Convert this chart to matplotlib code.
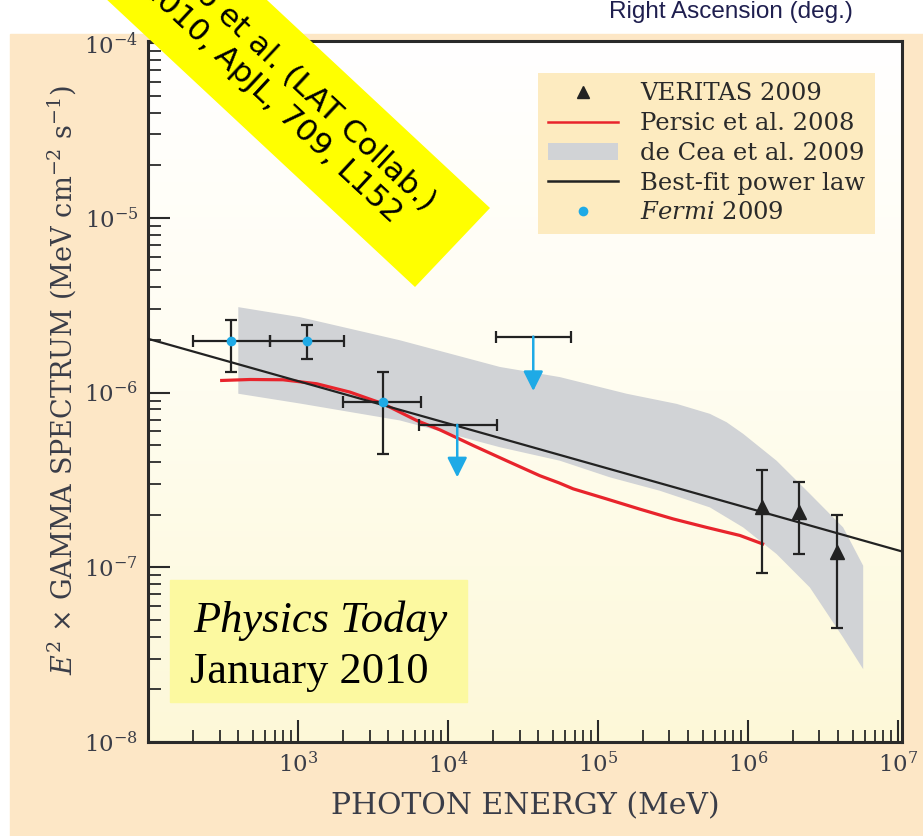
import numpy as np
import matplotlib
matplotlib.use("Agg")
import matplotlib.pyplot as plt
from matplotlib.patches import Rectangle, Patch, Polygon
from matplotlib.lines import Line2D
from matplotlib.colors import LinearSegmentedColormap
from matplotlib.ticker import LogLocator, NullFormatter

plt.rcParams['font.family'] = 'DejaVu Serif'
plt.rcParams['mathtext.fontset'] = 'dejavuserif'

# --------------------
# Data
# --------------------
# Fermi 2009 detections
fermi_E = [357, 1148, 3670]
fermi_F = [1.97e-6, 1.97e-6, 8.79e-7]
fermi_E_lo = [199, 650, 2006]
fermi_E_hi = [650, 2036, 6607]
fermi_F_lo = [1.31e-6, 1.55e-6, 4.46e-7]
fermi_F_hi = [2.61e-6, 2.44e-6, 1.31e-6]

# Fermi 2009 upper limits
ul_E = [11530, 37050]
ul_F = [6.53e-7, 2.09e-6]
ul_E_lo = [6440, 20900]
ul_E_hi = [21100, 66100]
ul_tip = [3.27e-7, 1.02e-6]

# VERITAS 2009
ver_E = [1.25e6, 2.2e6, 3.9e6]
ver_F = [2.22e-7, 2.06e-7, 1.22e-7]
ver_F_lo = [9.33e-8, 1.19e-7, 4.52e-8]
ver_F_hi = [3.62e-7, 3.06e-7, 2.0e-7]

# Persic et al. 2008 model
persic_E = [310, 479, 794, 1334, 2223, 3707, 6180, 8850, 14760, 24600,
            41020, 55000, 68390, 114300, 190500, 317700, 530900, 885100, 1.253e6]
persic_F = [1.172e-6, 1.187e-6, 1.183e-6, 1.122e-6, 1.005e-6, 8.61e-7,
            6.92e-7, 6.11e-7, 4.97e-7, 4.07e-7, 3.34e-7, 3.04e-7, 2.81e-7,
            2.46e-7, 2.15e-7, 1.89e-7, 1.69e-7, 1.52e-7, 1.36e-7]

# de Cea et al. 2009 band (upper and lower edges)
band_hi_E = [400, 1030, 4786, 22230, 55800, 155300, 334700, 558000, 721000,
             930000, 1.553e6, 2.59e6, 4.315e6, 5.87e6]
band_hi_F = [3.08e-6, 2.70e-6, 1.99e-6, 1.40e-6, 1.225e-6, 9.84e-7, 8.61e-7,
             7.55e-7, 6.76e-7, 5.80e-7, 4.07e-7, 2.63e-7, 1.69e-7, 1.02e-7]
band_lo_E = [400, 1030, 4786, 22230, 55800, 120200, 258800, 558000,
             930000, 1.553e6, 2.59e6, 4.315e6, 5.87e6]
band_lo_F = [9.84e-7, 8.65e-7, 6.92e-7, 4.86e-7, 4.07e-7, 3.27e-7, 2.74e-7,
             2.20e-7, 1.69e-7, 1.19e-7, 7.66e-8, 3.96e-8, 2.61e-8]

# Best-fit power law (end points)
fit_E = [1e2, 1.07e7]
fit_F = [2.03e-6, 1.23e-7]

x_ticks = [1e3, 1e4, 1e5, 1e6, 1e7]
y_ticks = [1e-8, 1e-7, 1e-6, 1e-5, 1e-4]

# --------------------
# Colours
# --------------------
peach = '#FDE7C6'
band_col = '#D1D3D6'
red = '#E8242C'
blue = '#1EAAE6'
ink = '#222222'
label_col = '#3a3d48'

W, H = 923, 836


def figxy(px, py):
    # image pixel (from top-left) -> figure fraction
    return (px / W, 1 - py / H)


# --------------------
# Figure
# --------------------
fig = plt.figure(figsize=(W / 100, H / 100), dpi=100)
fig.patches.append(Rectangle((10 / W, 0), 1, (H - 34) / H,
                             transform=fig.transFigure, color=peach, zorder=-1))

pos = [148 / W, 1 - 742 / H, 754 / W, 701 / H]

# gradient background of the plot area
bg = fig.add_axes(pos, zorder=0.5)
cmap = LinearSegmentedColormap.from_list('bg', ['#FFFFFF', '#FFFDF0', '#FDF8D8'])
bg.imshow(np.linspace(0, 1, 256).reshape(-1, 1), cmap=cmap, aspect='auto',
          extent=[0, 1, 0, 1])
bg.axis('off')

ax = fig.add_axes(pos, zorder=1)
ax.set_facecolor('none')
ax.set_xscale('log')
ax.set_yscale('log')
ax.set_xlim(1e2, 1.065e7)
ax.set_ylim(1e-8, 1.027e-4)

ax.fill(band_hi_E + band_lo_E[::-1], band_hi_F + band_lo_F[::-1],
        color=band_col, lw=0, zorder=2)
ax.plot(persic_E, persic_F, color=red, lw=2.3, zorder=3)
ax.plot(fit_E, fit_F, color=ink, lw=1.6, zorder=4)

ax.errorbar(fermi_E, fermi_F,
            xerr=[np.subtract(fermi_E, fermi_E_lo), np.subtract(fermi_E_hi, fermi_E)],
            yerr=[np.subtract(fermi_F, fermi_F_lo), np.subtract(fermi_F_hi, fermi_F)],
            fmt='none', ecolor=ink, elinewidth=1.6, capsize=4, capthick=1.6, zorder=5)
ax.plot(fermi_E, fermi_F, 'o', color=blue, ms=7, mec='none', zorder=6)

ax.errorbar(ul_E, ul_F,
            xerr=[np.subtract(ul_E, ul_E_lo), np.subtract(ul_E_hi, ul_E)],
            fmt='none', ecolor=ink, elinewidth=1.6, capsize=4, capthick=1.6, zorder=5)
for e, f, t in zip(ul_E, ul_F, ul_tip):
    ax.annotate('', xy=(e, t), xytext=(e, f),
                arrowprops=dict(arrowstyle='-|>', color=blue, lw=1.8,
                                mutation_scale=30, shrinkA=0, shrinkB=0),
                zorder=6)

ax.errorbar(ver_E, ver_F,
            yerr=[np.subtract(ver_F, ver_F_lo), np.subtract(ver_F_hi, ver_F)],
            fmt='^', color=ink, ms=10, elinewidth=1.6, capsize=4, capthick=1.6,
            zorder=6)

# axes styling
for s in ax.spines.values():
    s.set_linewidth(2.2)
    s.set_color('#2a2a2a')
ax.set_xticks(x_ticks)
ax.set_yticks(y_ticks)
ax.xaxis.set_minor_locator(LogLocator(base=10, subs=np.arange(2, 10)))
ax.yaxis.set_minor_locator(LogLocator(base=10, subs=np.arange(2, 10)))
ax.xaxis.set_minor_formatter(NullFormatter())
ax.yaxis.set_minor_formatter(NullFormatter())
ax.tick_params(which='major', direction='in', length=16, width=1.5,
               top=False, right=False, pad=7, labelsize=16.5, labelcolor=label_col,
               color='#2a2a2a')
ax.tick_params(which='minor', direction='in', length=9, width=1.3,
               top=False, right=False, color='#2a2a2a')

ax.set_xlabel('PHOTON ENERGY (MeV)', fontsize=21.5, color=label_col)
ax.xaxis.set_label_coords(0.5, -0.072)
ax.set_ylabel(r'$E^2$ × GAMMA SPECTRUM (MeV cm$^{-2}$ s$^{-1}$)',
              fontsize=19.5, color=label_col)
ax.yaxis.set_label_coords(-0.093, 0.516)

# legend
handles = [
    Line2D([], [], ls='none', marker='^', color=ink, ms=8),
    Line2D([], [], color=red, lw=1.8),
    Patch(facecolor=band_col, edgecolor='none'),
    Line2D([], [], color=ink, lw=1.8),
    Line2D([], [], ls='none', marker='o', color=blue, ms=7, mec='none'),
]
labels = ['VERITAS 2009', 'Persic et al. 2008', 'de Cea et al. 2009',
          'Best-fit power law', r'$\it{Fermi}$ 2009']
leg = ax.legend(handles, labels, loc='upper right', bbox_to_anchor=(0.964, 0.955),
                fontsize=17.5, frameon=True, facecolor='#FDEBC0', edgecolor='none',
                fancybox=False, framealpha=1, handlelength=2.9, handletextpad=0.9,
                labelspacing=0.28, borderpad=0.4, borderaxespad=0)
for t in leg.get_texts():
    t.set_color('#2a2a2a')

# Physics Today stamp
fig.patches.append(Rectangle(figxy(170, 702), 297 / W, 122 / H,
                             transform=fig.transFigure, color='#FCF9A0', zorder=5))
fig.text(*figxy(193, 632), 'Physics Today', family='Liberation Serif',
         style='italic', fontsize=32, va='baseline', zorder=6)
fig.text(*figxy(190, 683), 'January 2010', family='Liberation Serif',
         fontsize=32, va='baseline', zorder=6)

# top leftover caption
fig.text(*figxy(731, 12), 'Right Ascension (deg.)', family='Liberation Sans',
         fontsize=17.5, color='#1f1f4f', ha='center', va='center')

# yellow citation banner, tilted 43 degrees, running off the top edge
ang = np.deg2rad(43)
d = np.array([np.cos(ang), np.sin(ang)])          # along the banner (image coords)
top_end = np.array([490, 208])
bot_end = np.array([415, 287])
corners = [top_end, bot_end, bot_end - 650 * d, top_end - 650 * d]
fig.patches.append(Polygon([figxy(*c) for c in corners], closed=True,
                           transform=fig.transFigure, fc='#FFFF00', ec='none',
                           zorder=9))
anchor = (top_end + bot_end) / 2 - 44 * d
fig.text(*figxy(*anchor), 'Abdo et al. (LAT Collab.)\n2010, ApJL, 709, L152',
         rotation=-43, rotation_mode='anchor', ha='right', va='center',
         multialignment='center', fontsize=22.5, family='DejaVu Sans',
         linespacing=1.15, zorder=10)

fig.savefig('out.png', dpi=100)
